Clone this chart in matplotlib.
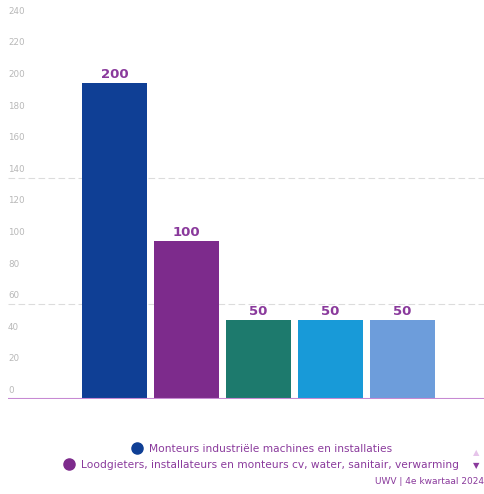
import matplotlib.pyplot as plt
from matplotlib.lines import Line2D

# Data
categories = [
    "Monteurs industriële machines en installaties",
    "Loodgieters, installateurs en monteurs cv, water, sanitair, verwarming",
    "Elektriciens",
    "Monteurs elektrotechniek",
    "Installateurs klimaattechniek",
]
values = [200, 100, 50, 50, 50]
colors = ["#0f3f95", "#7d2b8c", "#1d7a6d", "#189ad8", "#6d9ddb"]
yticks = [0, 20, 40, 60, 80, 100, 120, 140, 160, 180, 200, 220, 240]
source = "UWV | 4e kwartaal 2024"

purple = "#8a3a9c"

fig = plt.figure(figsize=(4.84, 4.94), dpi=100)
ax = fig.add_axes([8 / 484, 1 - 399 / 494, 476 / 484, 399 / 494])

x = list(range(len(values)))
ax.bar(x, values, width=0.9, color=colors)
for xi, v in zip(x, values):
    ax.text(xi, v + 1.5, str(v), ha="center", va="bottom", color=purple,
            fontsize=9.5, fontweight="bold")

ax.set_xlim(-1.479, 5.13)
ax.set_ylim(0, 252.5)

# y labels drawn just above their (invisible) grid positions
for t in yticks:
    ax.text(0.0, t + 2.5, str(t), transform=ax.get_yaxis_transform(),
            ha="left", va="bottom", color="#b8b8b8", fontsize=6.3)

# faint grid lines that show in the reference
for t in [60, 140]:
    ax.axhline(t, color="#dcdcdc", lw=0.8, ls=(0, (6, 3)), zorder=0)

ax.axhline(0, color="#c78ad3", lw=1.5, zorder=3)
for s in ax.spines.values():
    s.set_visible(False)
ax.set_xticks([])
ax.set_yticks([])

# legend (first page only), each row centred on its own
for i, ypix in enumerate([449, 465]):
    h = Line2D([], [], marker="o", ls="", color=colors[i], markersize=8)
    fig.legend([h], [categories[i]], loc="center",
               bbox_to_anchor=(0.535, 1 - ypix / 494), frameon=False,
               fontsize=7.7, labelcolor=purple, handletextpad=0.1,
               borderaxespad=0, borderpad=0)

fig.text(476 / 484, 1 - 453 / 494, "▲", color="#e6c4ea", fontsize=6, ha="center", va="center")
fig.text(476 / 484, 1 - 466 / 494, "▼", color=purple, fontsize=6, ha="center", va="center")
fig.text(484 / 484, 1 - 481 / 494, source, color=purple, fontsize=6.5, ha="right", va="center")

fig.savefig("out.png", dpi=100)
